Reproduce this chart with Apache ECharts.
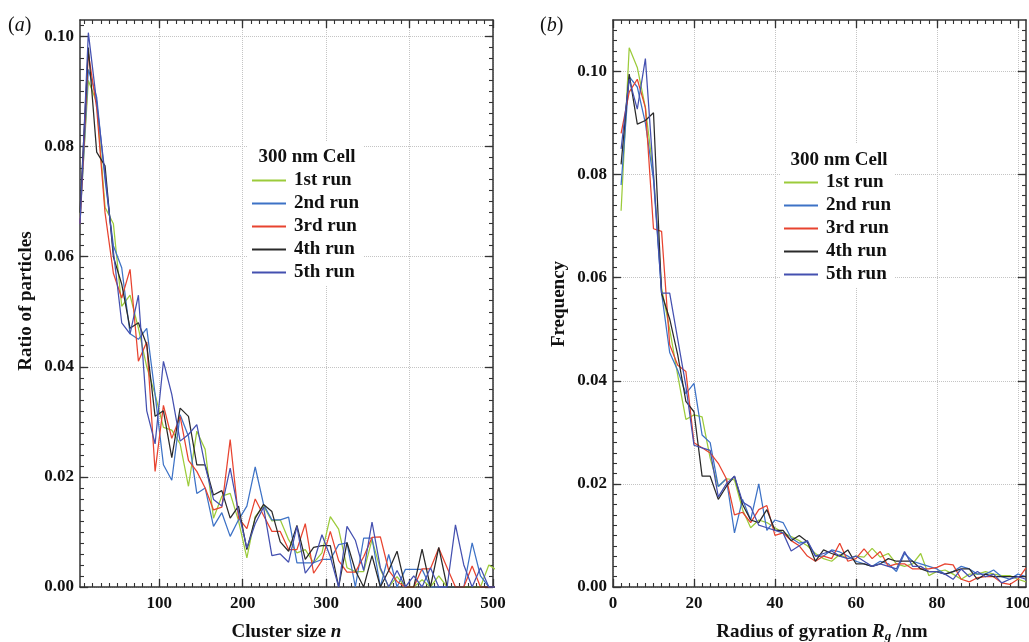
<!DOCTYPE html>
<html><head><meta charset="utf-8">
<script src="https://cdn.jsdelivr.net/npm/echarts@6/dist/echarts.min.js"></script>
<style>html,body{margin:0;padding:0;background:#fff}#c{width:1029px;height:642px}</style>
</head><body><div id="c"></div>
<script>
const runNames = ['1st run','2nd run','3rd run','4th run','5th run'];
const runColors = ['#9ccb3b','#3d72c6','#e8432f','#2a2a2a','#4450b0'];
const legendTitle = '300 nm Cell';

// panel (a): cluster size n
const clusterSize = [5,15,25,35,45,55,65,75,85,95,105,115,125,135,145,155,165,175,185,195,205,215,225,235,245,255,265,275,285,295,305,315,325,335,345,355,365,375,385,395,405,415,425,435,445,455,465,475,485,495,505];
const ratio1st = [0.067,0.092,0.088,0.069,0.066,0.051,0.053,0.047,0.040,0.035,
0.029,0.0285,0.026,0.0183,0.0283,0.025,0.0125,0.0165,0.017,0.012,
0.0053,0.0128,0.0147,0.012,0.0122,0.0086,0.0062,0.0068,0.0044,0.0062,
0.0128,0.0105,0.0035,0.0028,0.0028,0.0086,0.0032,0,0.0019,0,
0,0.0013,0,0.002,0,0,0,0,0,0.004,
0.003];
const ratio2nd = [0.066,0.094,0.089,0.074,0.062,0.058,0.046,0.045,0.047,0.035,
0.0222,0.0194,0.0313,0.0274,0.017,0.018,0.011,0.0135,0.0092,0.0122,
0.0147,0.0218,0.015,0.0122,0.0122,0.0127,0.0044,0.0044,0.0044,0.005,
0.005,0.0077,0.008,0,0.0089,0.0089,0,0.0059,0,0.0032,
0.0032,0.0032,0,0,0,0,0,0.008,0.002,0,
0];
const ratio3rd = [0.066,0.097,0.087,0.068,0.057,0.0525,0.0577,0.041,0.0445,0.021,
0.033,0.027,0.031,0.023,0.021,0.018,0.014,0.0145,0.0268,0.0125,
0.0106,0.016,0.013,0.0101,0.0101,0.0068,0.0068,0.0115,0.0025,0.0048,
0.0101,0.0048,0.0027,0.0027,0.0055,0.009,0.0091,0.003,0.001,0,
0,0.0033,0.0033,0.0071,0.0035,0,0,0.0038,0,0,
0];
const ratio4th = [0.068,0.098,0.079,0.0765,0.060,0.055,0.047,0.048,0.044,0.031,
0.032,0.0235,0.0325,0.031,0.0222,0.0222,0.0167,0.0175,0.0125,0.0147,
0.0068,0.0125,0.015,0.0137,0.0082,0.0065,0.0112,0.005,0.0072,0.0075,
0.0075,0,0.0081,0.003,0,0.0057,0,0.003,0.0065,0,
0,0.0069,0,0.0072,0,0,0,0,0,0,
0];
const ratio5th = [0.066,0.1007,0.088,0.075,0.061,0.048,0.046,0.053,0.032,0.026,
0.041,0.035,0.0265,0.0277,0.0295,0.022,0.0159,0.0147,0.0216,0.0135,
0.0071,0.0115,0.0145,0.0057,0.006,0.0045,0.011,0.0025,0.0045,0.0095,
0.0055,0,0.011,0.0085,0.003,0.0118,0.0035,0,0.003,0,
0.002,0,0.0035,0,0,0.0113,0.004,0,0.0035,0,
0];

// panel (b): radius of gyration
const gyration = [2,4,6,8,10,12,14,16,18,20,22,24,26,28,30,32,34,36,38,40,42,44,46,48,50,52,54,56,58,60,62,64,66,68,70,72,74,76,78,80,82,84,86,88,90,92,94,96,98,100,102];
const freq1st = [0.073,0.1046,0.1008,0.093,0.080,0.058,0.050,0.041,0.0325,0.0334,
0.033,0.025,0.0195,0.021,0.0208,0.015,0.0115,0.013,0.0125,0.0115,
0.0105,0.0098,0.009,0.008,0.0065,0.0055,0.005,0.0063,0.0055,0.006,
0.0058,0.0075,0.0058,0.0065,0.0045,0.004,0.0045,0.0065,0.0022,0.003,
0.0033,0.0025,0.0015,0.0025,0.0025,0.003,0.0025,0.0022,0.0022,0.0015,
0.001];
const freq2nd = [0.078,0.099,0.097,0.090,0.079,0.057,0.0455,0.042,0.0375,0.0395,
0.0295,0.028,0.0195,0.021,0.0105,0.017,0.013,0.020,0.011,0.013,
0.0125,0.0095,0.0085,0.0088,0.006,0.006,0.0072,0.0068,0.006,0.005,
0.0045,0.004,0.005,0.0045,0.003,0.0065,0.005,0.0045,0.004,0.0035,
0.0025,0.003,0.004,0.0035,0.0025,0.0025,0.0033,0.002,0.0015,0.0025,
0.002];
const freq3rd = [0.088,0.096,0.0985,0.093,0.0695,0.069,0.047,0.043,0.0418,0.028,
0.027,0.026,0.024,0.021,0.014,0.0145,0.0125,0.015,0.0158,0.010,
0.0105,0.009,0.008,0.006,0.005,0.006,0.0055,0.0085,0.005,0.0055,
0.0074,0.0055,0.0069,0.004,0.0045,0.0045,0.0035,0.0035,0.0035,0.0038,
0.0045,0.0043,0.0015,0.001,0.0018,0.002,0.002,0.0008,0.0005,0.0015,
0.0037];
const freq4th = [0.082,0.0995,0.0898,0.0905,0.092,0.057,0.052,0.045,0.036,0.034,
0.0215,0.0215,0.017,0.0195,0.0215,0.016,0.013,0.0125,0.015,0.011,
0.011,0.009,0.010,0.0088,0.005,0.0072,0.0065,0.006,0.0072,0.0045,
0.0045,0.004,0.0045,0.0055,0.005,0.005,0.005,0.0035,0.003,0.003,
0.0025,0.003,0.0035,0.0035,0.0015,0.0025,0.002,0.002,0.002,0.002,
0.002];
const freq5th = [0.085,0.0985,0.0927,0.1025,0.080,0.057,0.057,0.048,0.039,0.0275,
0.027,0.0265,0.0175,0.020,0.0215,0.0165,0.0155,0.012,0.0115,0.011,
0.0105,0.007,0.008,0.009,0.006,0.0065,0.007,0.006,0.0055,0.006,
0.005,0.004,0.0045,0.004,0.0035,0.0069,0.004,0.004,0.003,0.003,
0.0025,0.0015,0.0035,0.002,0.003,0.002,0.0025,0.0008,0.0015,0.002,
0.0015];

// tick labels
const xTicksA = [100,200,300,400,500];
const yTicksA = [0,0.02,0.04,0.06,0.08,0.10];
const xTicksB = [0,20,40,60,80,100];
const yTicksB = [0,0.02,0.04,0.06,0.08,0.10];

const ratioRuns = [ratio1st, ratio2nd, ratio3rd, ratio4th, ratio5th];
const freqRuns = [freq1st, freq2nd, freq3rd, freq4th, freq5th];

// minor tick positions (styling)
function steps(from, to, step, dec){const a=[];for(let v=from; v<=to+1e-9; v+=step){a.push(+v.toFixed(dec));}return a;}
const minorXA = steps(10, 490, 10, 0);
const minorYA = steps(0.002, 0.102, 0.002, 4);
const minorXB = steps(2, 100, 2, 0);
const minorYB = steps(0.002, 0.108, 0.002, 4);

const FONT = 'Liberation Serif';
const AX = '#333';
const lbl = {color:'#111', fontFamily:FONT, fontWeight:'bold', fontSize:17};

function axesFor(kind, gridIndex, min, max, major, minor, labelOpt){
  const posA = kind==='x' ? 'bottom' : 'left';
  const posB = kind==='x' ? 'top' : 'right';
  const base = {type:'value', gridIndex, min, max};
  return [
    Object.assign({}, base, {position:posA,
      axisLine:{show:true,onZero:false,lineStyle:{color:AX,width:1.5}},
      axisTick:{show:true,inside:true,length:8,customValues:major,lineStyle:{color:AX,width:1.3}},
      axisLabel:Object.assign({show:true,customValues:major}, lbl, labelOpt),
      splitLine:{show:true,lineStyle:{color:'#c4c4c4',type:'dotted',width:1}}}),
    Object.assign({}, base, {position:posA,
      axisLine:{show:false,onZero:false},
      axisTick:{show:true,inside:true,length:4,customValues:minor,lineStyle:{color:AX,width:1.1}},
      axisLabel:{show:false}, splitLine:{show:false}}),
    Object.assign({}, base, {position:posB,
      axisLine:{show:true,onZero:false,lineStyle:{color:AX,width:1.5}},
      axisTick:{show:true,inside:true,length:8,customValues:major,lineStyle:{color:AX,width:1.3}},
      axisLabel:{show:false}, splitLine:{show:false}}),
    Object.assign({}, base, {position:posB,
      axisLine:{show:false,onZero:false},
      axisTick:{show:true,inside:true,length:4,customValues:minor,lineStyle:{color:AX,width:1.1}},
      axisLabel:{show:false}, splitLine:{show:false}})
  ];
}

const xAxis = [].concat(
  axesFor('x', 0, 5, 500, xTicksA, minorXA, {margin:8}),
  axesFor('x', 1, 0, 102, xTicksB, minorXB, {margin:8})
);
const yFmt = v => v.toFixed(2);
const yAxis = [].concat(
  axesFor('y', 0, 0, 0.103, yTicksA, minorYA, {margin:6, formatter:yFmt}),
  axesFor('y', 1, 0, 0.11, yTicksB, minorYB, {margin:6, formatter:yFmt})
);

const series = [];
runNames.forEach((name, i) => {
  series.push({type:'line', name, xAxisIndex:0, yAxisIndex:0, symbol:'none', showSymbol:false,
    color:runColors[i], lineStyle:{color:runColors[i], width:1.25}, itemStyle:{color:runColors[i]},
    data: clusterSize.map((n,k)=>[n, ratioRuns[i][k]]), clip:true, z:2});
});
runNames.forEach((name, i) => {
  series.push({type:'line', name, xAxisIndex:4, yAxisIndex:4, symbol:'none', showSymbol:false,
    color:runColors[i], lineStyle:{color:runColors[i], width:1.25}, itemStyle:{color:runColors[i]},
    data: gyration.map((r,k)=>[r, freqRuns[i][k]]), clip:true, z:2});
});

function legendAt(left, top){
  return {show:true, orient:'vertical', left, top, padding:[29,4,4,4], backgroundColor:'#fff',
    itemWidth:34, itemHeight:2, itemGap:4, icon:'rect', selectedMode:false, data:runNames,
    textStyle:{fontFamily:FONT, fontWeight:'bold', fontSize:19, color:'#111', lineHeight:18, padding:[0,0,0,3]}};
}

function txt(x, y, text, opt){
  return Object.assign({type:'text', x, y, z:100, style:Object.assign({text, x:0, y:0,
    font:'bold 19px "Liberation Serif"', fill:'#111', align:'center', verticalAlign:'middle',
    textAlign:'center', textVerticalAlign:'middle'}, opt && opt.style)}, opt && opt.el);
}

const richAxis = {
  i:{fontFamily:FONT, fontWeight:'bold', fontStyle:'italic', fontSize:19, fill:'#111'},
  s:{fontFamily:FONT, fontWeight:'bold', fontStyle:'italic', fontSize:13, fill:'#111', padding:[10,0,0,0]}
};

const graphic = [
  txt(8, 26, '({i|a})', {style:{font:'20px "Liberation Serif"', align:'left', textAlign:'left', rich:{i:{fontFamily:FONT,fontStyle:'italic',fontSize:20,fill:'#111'}}}}),
  txt(540, 26, '({i|b})', {style:{font:'20px "Liberation Serif"', align:'left', textAlign:'left', rich:{i:{fontFamily:FONT,fontStyle:'italic',fontSize:20,fill:'#111'}}}}),
  txt(26, 301, 'Ratio of particles', {el:{rotation:Math.PI/2}}),
  txt(286.5, 632, 'Cluster size {i|n}', {style:{rich:richAxis}}),
  txt(559, 304, 'Frequency', {el:{rotation:Math.PI/2}}),
  txt(822, 632, 'Radius of gyration {i|R}{s|g} /nm', {style:{rich:richAxis}}),
  txt(307, 157, legendTitle),
  txt(839, 160, legendTitle)
];

const chart = echarts.init(document.getElementById('c'), null, {renderer:'canvas'});
chart.setOption({
  backgroundColor:'#fff',
  animation:false,
  grid:[
    {left:80, top:20, width:413, height:567, containLabel:false, outerBoundsMode:'none'},
    {left:613, top:20, width:413, height:567, containLabel:false, outerBoundsMode:'none'}
  ],
  xAxis, yAxis, series,
  legend:[legendAt(248,142), legendAt(780,144)],
  graphic
});
</script></body></html>
